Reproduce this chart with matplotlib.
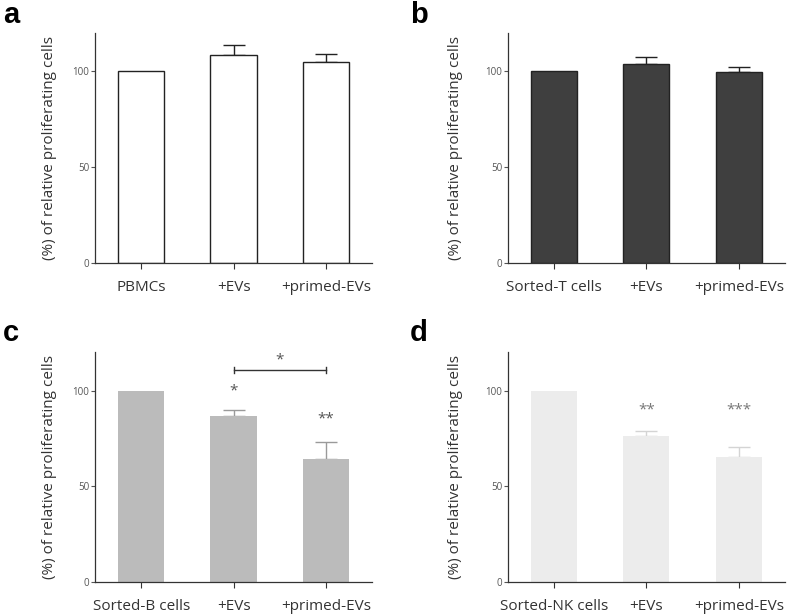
import matplotlib
matplotlib.use("Agg")
import matplotlib.pyplot as plt

plt.rcParams['font.family'] = ['Open Sans', 'DejaVu Sans']

# ---- data ----
cats_a = ["PBMCs", "+EVs", "+primed-EVs"]
vals_a = [100, 108.7, 105.0]
err_a = [0, 4.8, 4.0]

cats_b = ["Sorted-T cells", "+EVs", "+primed-EVs"]
vals_b = [100, 103.6, 99.8]
err_b = [0, 3.9, 2.3]

cats_c = ["Sorted-B cells", "+EVs", "+primed-EVs"]
vals_c = [100, 87.0, 64.2]
err_c = [0, 2.7, 8.9]
stars_c = ["", "*", "**"]
stars_c_y = [0, 99.7, 85.4]
bracket_c = (1, 2, 110.9, "*")

cats_d = ["Sorted-NK cells", "+EVs", "+primed-EVs"]
vals_d = [100, 76.4, 65.3]
err_d = [0, 2.8, 5.5]
stars_d = ["", "**", "***"]
stars_d_y = [0, 89.7, 89.7]

yticks = [0, 50, 100]

W, H = 787, 616
fig = plt.figure(figsize=(W / 100, H / 100), dpi=100)

def fx(px):
    return px / W

def fy(py):
    return 1 - py / H

def make_ax(x0, x1, ytop, ybot):
    return fig.add_axes([fx(x0), fy(ybot), fx(x1) - fx(x0), fy(ytop) - fy(ybot)])

panels = [
    ("a", cats_a, vals_a, err_a, "white", "#222222", "#222222", 95, 372, 33, 263, (3, 15), 50),
    ("b", cats_b, vals_b, err_b, "#3f3f3f", "#222222", "#222222", 507.7, 785, 33, 263, (410, 15), 455),
    ("c", cats_c, vals_c, err_c, "#bbbbbb", "none", "#9a9a9a", 95, 372, 352.3, 582.3, (3, 333), 50),
    ("d", cats_d, vals_d, err_d, "#ececec", "none", "#d4d4d4", 507.7, 785, 352.3, 582.3, (410, 333), 455),
]

axes = {}
for (lab, cats, vals, errs, fc, ec, errc, x0, x1, yt, yb, labpos, ylabx) in panels:
    ax = make_ax(x0, x1, yt, yb)
    axes[lab] = ax
    xs = list(range(len(cats)))
    ax.bar(xs, vals, width=0.5, color=fc, edgecolor=ec, linewidth=1.0, zorder=2)
    ex = [x for x, e in zip(xs, errs) if e > 0]
    ev = [v for v, e in zip(vals, errs) if e > 0]
    ee = [e for e in errs if e > 0]
    ax.errorbar(ex, ev, yerr=[[0] * len(ee), ee], fmt="none", ecolor=errc,
                elinewidth=1.0, capsize=8, capthick=1.0, zorder=1)
    ax.set_xlim(-0.5, 2.5)
    ax.set_ylim(0, 120)
    ax.set_yticks(yticks)
    ax.set_xticks(xs)
    ax.set_xticklabels(cats, fontsize=11, color="#333333")
    ax.tick_params(axis="y", labelsize=7, colors="#555555", length=3, width=0.8, pad=1)
    ax.tick_params(axis="x", length=4, width=0.8, color="#333333", pad=8)
    for s in ["top", "right"]:
        ax.spines[s].set_visible(False)
    for s in ["left", "bottom"]:
        ax.spines[s].set_color("#333333")
        ax.spines[s].set_linewidth(0.9)
    fig.text(fx(ylabx), (fy(yt) + fy(yb)) / 2, "(%) of relative proliferating cells",
             rotation=90, ha="center", va="center", fontsize=11, color="#333333")
    fig.text(fx(labpos[0]), fy(labpos[1]), lab, fontsize=21, fontweight="bold",
             family="Liberation Sans", ha="left", va="center")

ax = axes["c"]
for i, (s, y) in enumerate(zip(stars_c, stars_c_y)):
    if s:
        ax.text(i, y, s, ha="center", va="center", fontsize=11, color="#555555")
b0, b1, by, bs = bracket_c
ax.plot([b0, b1], [by, by], color="#333333", lw=1.0)
ax.plot([b0, b0], [by - 1.5, by + 1.5], color="#333333", lw=1.0)
ax.plot([b1, b1], [by - 1.5, by + 1.5], color="#333333", lw=1.0)
ax.text((b0 + b1) / 2, by + 5, bs, ha="center", va="center", fontsize=11, color="#555555")

ax = axes["d"]
for i, (s, y) in enumerate(zip(stars_d, stars_d_y)):
    if s:
        ax.text(i, y, s, ha="center", va="center", fontsize=11, color="#777777")

fig.savefig("out.png", dpi=100)
